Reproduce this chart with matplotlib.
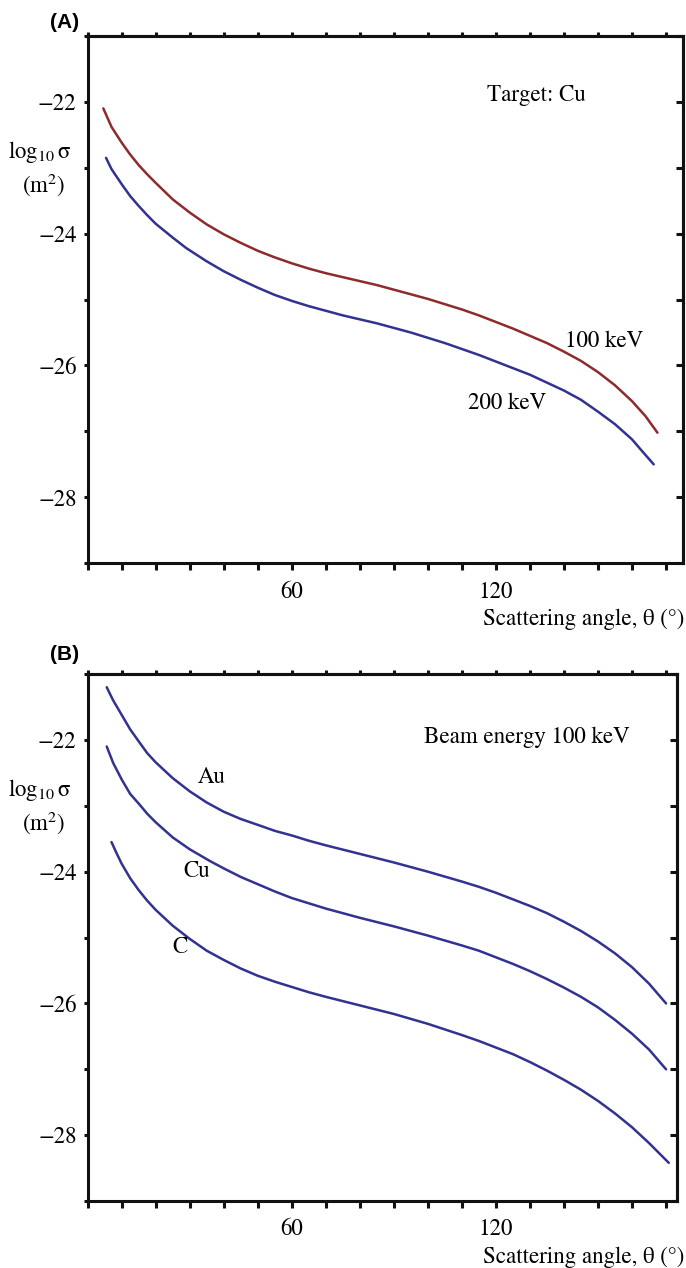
import numpy as np
import matplotlib
matplotlib.use("Agg")
import matplotlib.pyplot as plt

plt.rcParams['font.family'] = ['STIXGeneral', 'DejaVu Serif']
plt.rcParams['mathtext.fontset'] = 'stix'

RED = '#8e2b2b'
BLUE = '#323290'

# panel A: Cu target, two beam energies
a_angle_100 = [4.6, 7, 10, 12.5, 15, 17.5, 20, 25, 30, 35, 40, 45, 50, 55, 60, 65, 70, 75, 80, 85, 90,
               95, 100, 105, 110, 115, 120, 125, 130, 135, 140, 145, 150, 155, 160, 164, 167.5]
a_log_100 = [-22.1, -22.38, -22.62, -22.8, -22.96, -23.1, -23.23, -23.48, -23.68, -23.86, -24.01,
             -24.14, -24.26, -24.36, -24.45, -24.53, -24.6, -24.66, -24.72, -24.78, -24.85,
             -24.92, -24.99, -25.07, -25.15, -25.24, -25.34, -25.44, -25.55, -25.66, -25.79,
             -25.93, -26.1, -26.3, -26.54, -26.77, -27.02]
a_angle_200 = [5.4, 7, 10, 12.5, 15, 17.5, 20, 25, 29, 35, 40, 45, 50, 55, 60, 65, 70, 75, 80, 85, 90,
               95, 100, 105, 110, 115, 120, 125, 130, 135, 140, 145, 150, 155, 160, 163, 166.4]
a_log_200 = [-22.85, -23.02, -23.25, -23.43, -23.58, -23.72, -23.85, -24.06, -24.22, -24.42, -24.57,
             -24.7, -24.82, -24.93, -25.02, -25.1, -25.17, -25.24, -25.3, -25.36, -25.43,
             -25.5, -25.58, -25.66, -25.75, -25.84, -25.94, -26.04, -26.14, -26.26, -26.38,
             -26.52, -26.7, -26.89, -27.12, -27.3, -27.5]

# panel B: 100 keV beam, three targets
b_angle_au = [5.6, 7.5, 10, 12.5, 15.4, 17.5, 20, 25, 30, 35, 40, 45, 50.6, 55, 60, 65, 70, 80, 90,
              100, 110, 115, 120, 125, 130, 135, 140, 145, 150, 155, 160, 165, 170]
b_log_au = [-21.2, -21.4, -21.62, -21.84, -22.05, -22.2, -22.34, -22.58, -22.78, -22.95, -23.09,
            -23.2, -23.3, -23.38, -23.45, -23.53, -23.6, -23.73, -23.86, -24.0, -24.15, -24.23,
            -24.32, -24.42, -24.52, -24.63, -24.76, -24.9, -25.06, -25.24, -25.45, -25.7, -26.0]
b_angle_cu = [5.6, 7.5, 10, 12.5, 15.4, 17.5, 20, 25, 30, 36, 40, 45, 50, 55, 60, 65, 70, 80, 90,
              100, 110, 115, 120, 125, 130, 135, 140, 145, 150, 155, 160, 165, 170]
b_log_cu = [-22.1, -22.35, -22.6, -22.82, -22.99, -23.12, -23.25, -23.48, -23.66, -23.84, -23.95,
            -24.08, -24.19, -24.3, -24.4, -24.48, -24.56, -24.7, -24.83, -24.97, -25.12, -25.2,
            -25.3, -25.4, -25.51, -25.63, -25.76, -25.9, -26.06, -26.25, -26.46, -26.7, -27.0]
b_angle_c = [7, 8.5, 10, 12.5, 15, 17.5, 20, 25, 30, 35, 40, 45, 50, 55, 60, 65, 70, 80, 90,
             100, 110, 115, 120, 125, 130, 135, 140, 145, 150, 155, 160, 165, 170.8]
b_log_c = [-23.55, -23.72, -23.88, -24.1, -24.28, -24.44, -24.58, -24.82, -25.02, -25.2, -25.34,
           -25.47, -25.58, -25.67, -25.75, -25.83, -25.9, -26.03, -26.16, -26.31, -26.48, -26.57,
           -26.67, -26.77, -26.89, -27.02, -27.16, -27.31, -27.48, -27.67, -27.88, -28.12, -28.42]

x_ticks = list(range(0, 171, 10))
x_labels = ['' if t not in (60, 120) else str(t) for t in x_ticks]
y_ticks = list(range(-29, -20))
y_labels = ['\u2212' + str(-t) if t % 2 == 0 else '' for t in y_ticks]

FS = 16.5
LW = 2.2


def style_axes(ax, xmax):
    ax.set_xlim(0, xmax)
    ax.set_ylim(-29, -21)
    for s in ax.spines.values():
        s.set_linewidth(LW)
        s.set_color('#111111')
    ax.set_xticks(x_ticks)
    ax.set_xticklabels(x_labels, fontsize=FS)
    ax.set_yticks(y_ticks)
    ax.set_yticklabels(y_labels, fontsize=FS)
    ax.tick_params(axis='x', direction='out', length=5, width=LW, pad=8, color='#111111')
    ax.tick_params(axis='y', direction='out', length=3, width=LW, pad=5, color='#111111')
    top = ax.secondary_xaxis('top')
    top.set_xticks(x_ticks)
    top.set_xticklabels([])
    top.tick_params(direction='out', length=3, width=LW, color='#111111')
    top.spines['top'].set_linewidth(LW)
    right = ax.secondary_yaxis('right')
    right.set_yticks(y_ticks)
    right.set_yticklabels([])
    right.tick_params(direction='in', length=5, width=LW, color='#111111')
    right.spines['right'].set_linewidth(LW)
    ax.text(-14, -22.76, r'log$_{10}\,$' + '\u03c3', fontsize=FS, ha='center', va='center', clip_on=False)
    ax.text(-13, -23.26, r'(m$^2$)', fontsize=FS, ha='center', va='center', clip_on=False)


fig = plt.figure(figsize=(6.86, 12.68), dpi=100)
ax1 = fig.add_axes([0.1278, 0.5558, 0.8678, 0.4159])
ax2 = fig.add_axes([0.1278, 0.0528, 0.8590, 0.4156])

ax1.plot(a_angle_100, a_log_100, color=RED, lw=1.8, solid_capstyle='round')
ax1.plot(a_angle_200, a_log_200, color=BLUE, lw=1.8, solid_capstyle='round')
style_axes(ax1, 175)
ax1.text(132, -21.9, 'Target: Cu', fontsize=FS, ha='center', va='center')
ax1.text(151.7, -25.64, '100 keV', fontsize=FS, ha='center', va='center')
ax1.text(123.4, -26.57, '200 keV', fontsize=FS, ha='center', va='center')

ax2.plot(b_angle_au, b_log_au, color=BLUE, lw=1.8, solid_capstyle='round')
ax2.plot(b_angle_cu, b_log_cu, color=BLUE, lw=1.8, solid_capstyle='round')
ax2.plot(b_angle_c, b_log_c, color=BLUE, lw=1.8, solid_capstyle='round')
style_axes(ax2, 173.2)
ax2.text(129, -21.96, 'Beam energy 100 keV', fontsize=FS, ha='center', va='center')
ax2.text(36.5, -22.57, 'Au', fontsize=FS, ha='center', va='center')
ax2.text(31.9, -24.0, 'Cu', fontsize=FS, ha='center', va='center')
ax2.text(27, -25.15, 'C', fontsize=FS, ha='center', va='center')

fig.text(684 / 686, 1 - 619 / 1268, 'Scattering angle, \u03b8 (\u00b0)', fontsize=FS, ha='right', va='center')
fig.text(684 / 686, 1 - 1257 / 1268, 'Scattering angle, \u03b8 (\u00b0)', fontsize=FS, ha='right', va='center')
fig.text(65 / 686, 1 - 22 / 1268, '(A)', fontsize=15, fontweight='bold', family='Liberation Sans',
         ha='center', va='center')
fig.text(65 / 686, 1 - 655 / 1268, '(B)', fontsize=15, fontweight='bold', family='Liberation Sans',
         ha='center', va='center')

fig.savefig('out.png', dpi=100)
